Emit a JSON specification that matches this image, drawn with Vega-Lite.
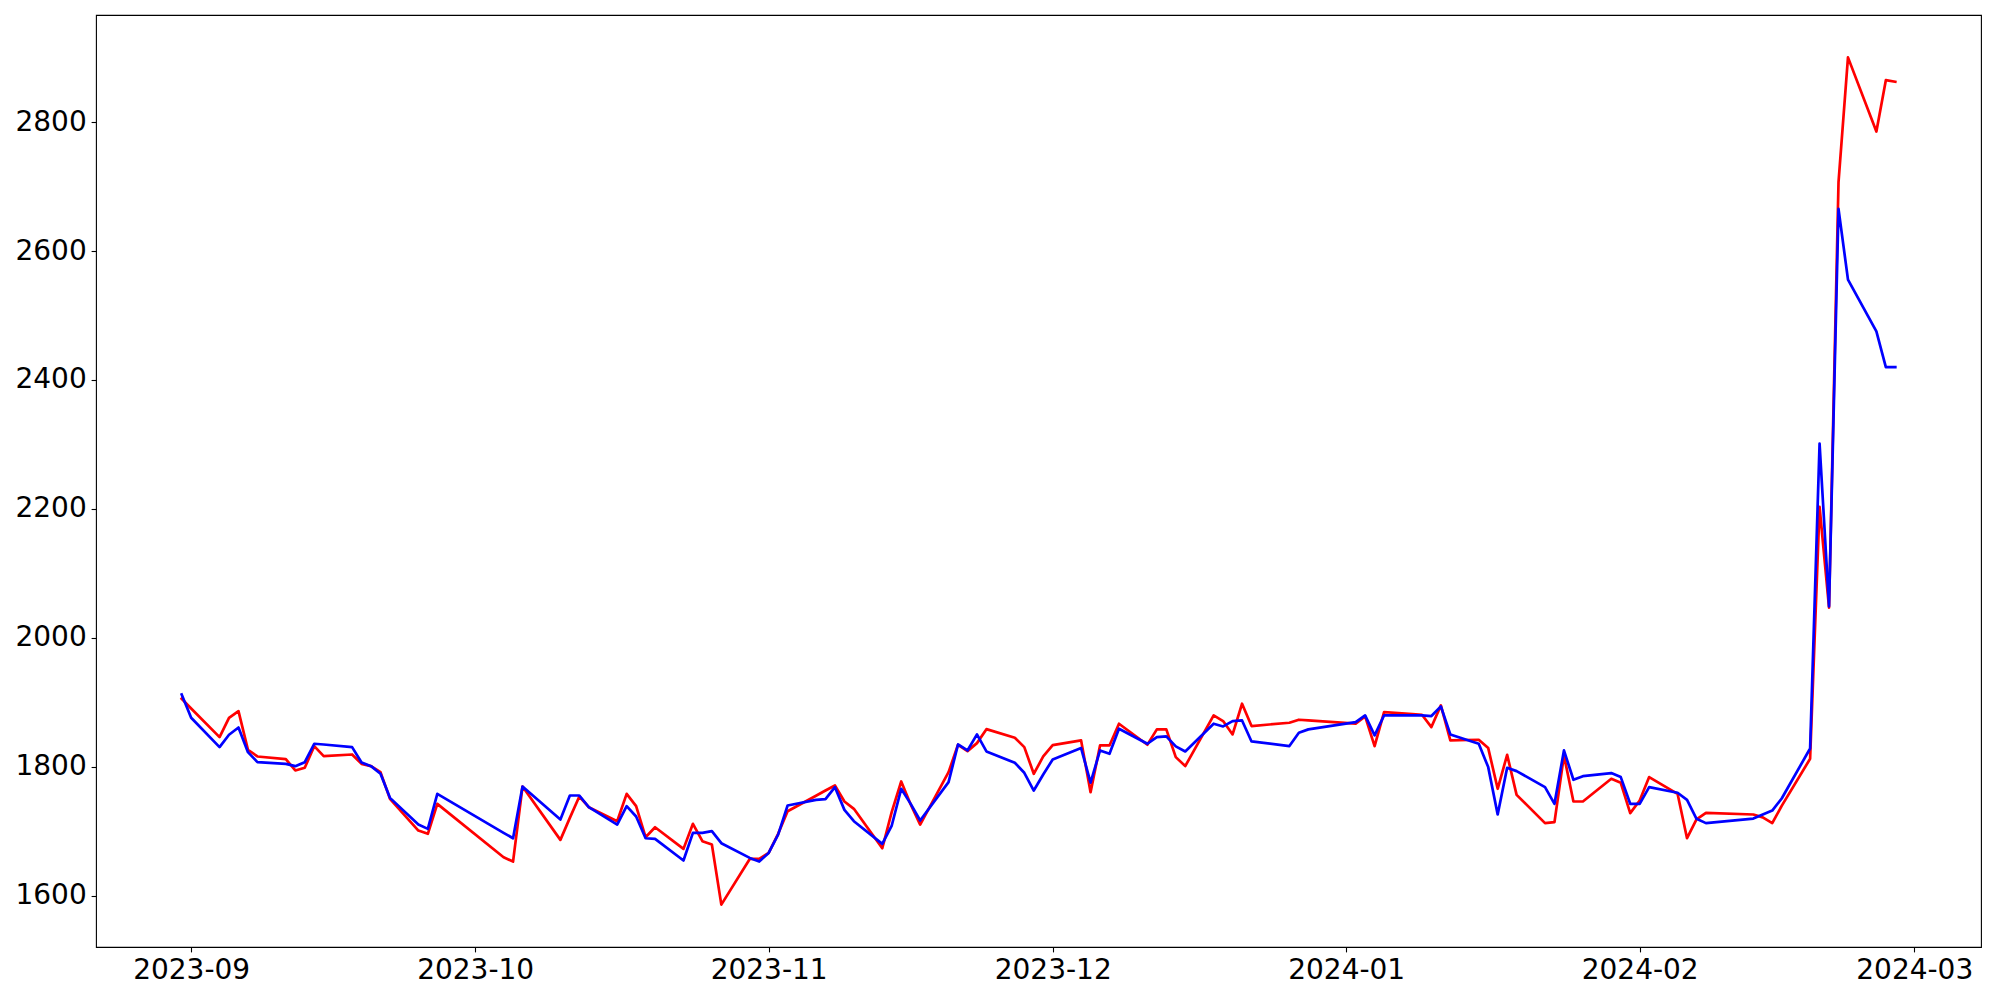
{
  "$schema": "https://vega.github.io/schema/vega-lite/v6.json",
  "width": 1885,
  "height": 932,
  "autosize": {"type": "none"},
  "padding": {"left": 96, "top": 15, "right": 19, "bottom": 53},
  "background": "white",
  "config": {
    "font": "DejaVu Sans",
    "view": {"stroke": "black", "strokeWidth": 1.1},
    "axis": {
      "labelFontSize": 28,
      "labelFont": "DejaVu Sans",
      "labelColor": "black",
      "tickColor": "black",
      "tickSize": 4.9,
      "tickWidth": 1.1,
      "labelPadding": 4.9,
      "domain": false,
      "grid": false,
      "title": null,
      "labelFlush": false,
      "labelOverlap": false,
      "labelBound": false
    }
  },
  "data": {
    "values": [
      {"date": "2023-08-31", "red": 1905.6, "blue": 1912.4},
      {"date": "2023-09-01", "red": 1890.6, "blue": 1876.1},
      {"date": "2023-09-04", "red": 1846.1, "blue": 1830.6},
      {"date": "2023-09-05", "red": 1876.1, "blue": 1849.8},
      {"date": "2023-09-06", "red": 1886.5, "blue": 1861.1},
      {"date": "2023-09-07", "red": 1826.5, "blue": 1822.8},
      {"date": "2023-09-08", "red": 1816.1, "blue": 1807.3},
      {"date": "2023-09-11", "red": 1812.0, "blue": 1804.7},
      {"date": "2023-09-12", "red": 1794.4, "blue": 1801.1},
      {"date": "2023-09-13", "red": 1798.5, "blue": 1807.3},
      {"date": "2023-09-14", "red": 1832.2, "blue": 1835.8},
      {"date": "2023-09-15", "red": 1816.6, "blue": 1834.7},
      {"date": "2023-09-18", "red": 1819.2, "blue": 1830.6},
      {"date": "2023-09-19", "red": 1804.7, "blue": 1806.8},
      {"date": "2023-09-20", "red": 1801.1, "blue": 1801.1},
      {"date": "2023-09-21", "red": 1791.8, "blue": 1789.2},
      {"date": "2023-09-22", "red": 1750.4, "blue": 1751.9},
      {"date": "2023-09-25", "red": 1701.2, "blue": 1710.5},
      {"date": "2023-09-26", "red": 1696.1, "blue": 1703.8},
      {"date": "2023-09-27", "red": 1742.6, "blue": 1758.1},
      {"date": "2023-10-04", "red": 1659.8, "blue": 1697.6},
      {"date": "2023-10-05", "red": 1653.1, "blue": 1689.3},
      {"date": "2023-10-06", "red": 1769.5, "blue": 1769.5},
      {"date": "2023-10-10", "red": 1686.7, "blue": 1718.3},
      {"date": "2023-10-11", "red": 1720.9, "blue": 1755.6},
      {"date": "2023-10-12", "red": 1754.0, "blue": 1755.6},
      {"date": "2023-10-13", "red": 1737.4, "blue": 1737.4},
      {"date": "2023-10-16", "red": 1715.7, "blue": 1710.5},
      {"date": "2023-10-17", "red": 1758.1, "blue": 1739.0},
      {"date": "2023-10-18", "red": 1739.0, "blue": 1723.0},
      {"date": "2023-10-19", "red": 1690.9, "blue": 1689.3},
      {"date": "2023-10-20", "red": 1706.4, "blue": 1688.3},
      {"date": "2023-10-23", "red": 1672.8, "blue": 1654.7},
      {"date": "2023-10-24", "red": 1711.6, "blue": 1697.6},
      {"date": "2023-10-25", "red": 1684.7, "blue": 1697.6},
      {"date": "2023-10-26", "red": 1679.5, "blue": 1700.2},
      {"date": "2023-10-27", "red": 1586.3, "blue": 1681.6},
      {"date": "2023-10-30", "red": 1657.2, "blue": 1658.8},
      {"date": "2023-10-31", "red": 1657.2, "blue": 1653.1},
      {"date": "2023-11-01", "red": 1666.5, "blue": 1666.5},
      {"date": "2023-11-02", "red": 1696.1, "blue": 1695.0},
      {"date": "2023-11-03", "red": 1731.2, "blue": 1740.0},
      {"date": "2023-11-06", "red": 1755.2, "blue": 1748.8},
      {"date": "2023-11-07", "red": 1763.3, "blue": 1749.9},
      {"date": "2023-11-08", "red": 1771.1, "blue": 1768.5},
      {"date": "2023-11-09", "red": 1746.3, "blue": 1733.3},
      {"date": "2023-11-10", "red": 1734.9, "blue": 1715.7},
      {"date": "2023-11-13", "red": 1673.8, "blue": 1680.5},
      {"date": "2023-11-14", "red": 1730.2, "blue": 1709.0},
      {"date": "2023-11-15", "red": 1777.3, "blue": 1765.9},
      {"date": "2023-11-16", "red": 1741.6, "blue": 1742.6},
      {"date": "2023-11-17", "red": 1710.5, "blue": 1716.8},
      {"date": "2023-11-20", "red": 1791.8, "blue": 1776.3},
      {"date": "2023-11-21", "red": 1834.2, "blue": 1834.7},
      {"date": "2023-11-22", "red": 1824.4, "blue": 1825.4},
      {"date": "2023-11-23", "red": 1836.8, "blue": 1850.3},
      {"date": "2023-11-24", "red": 1858.5, "blue": 1823.9},
      {"date": "2023-11-27", "red": 1845.1, "blue": 1806.3},
      {"date": "2023-11-28", "red": 1830.6, "blue": 1790.8},
      {"date": "2023-11-29", "red": 1789.2, "blue": 1763.3},
      {"date": "2023-11-30", "red": 1816.1, "blue": 1788.2},
      {"date": "2023-12-01", "red": 1833.7, "blue": 1811.5},
      {"date": "2023-12-04", "red": 1841.0, "blue": 1829.1},
      {"date": "2023-12-05", "red": 1760.7, "blue": 1775.5},
      {"date": "2023-12-06", "red": 1833.2, "blue": 1825.5},
      {"date": "2023-12-07", "red": 1833.2, "blue": 1820.3},
      {"date": "2023-12-08", "red": 1866.9, "blue": 1859.1},
      {"date": "2023-12-11", "red": 1834.3, "blue": 1835.8},
      {"date": "2023-12-12", "red": 1858.1, "blue": 1846.2},
      {"date": "2023-12-13", "red": 1858.1, "blue": 1847.2},
      {"date": "2023-12-14", "red": 1815.1, "blue": 1831.7},
      {"date": "2023-12-15", "red": 1801.2, "blue": 1823.9},
      {"date": "2023-12-18", "red": 1879.8, "blue": 1866.9},
      {"date": "2023-12-19", "red": 1871.0, "blue": 1862.7},
      {"date": "2023-12-20", "red": 1850.3, "blue": 1871.0},
      {"date": "2023-12-21", "red": 1897.9, "blue": 1872.0},
      {"date": "2023-12-22", "red": 1863.3, "blue": 1839.4},
      {"date": "2023-12-26", "red": 1868.4, "blue": 1832.2},
      {"date": "2023-12-27", "red": 1873.1, "blue": 1852.9},
      {"date": "2023-12-28", "red": 1872.1, "blue": 1858.1},
      {"date": "2024-01-02", "red": 1866.9, "blue": 1869.5},
      {"date": "2024-01-03", "red": 1878.3, "blue": 1879.8},
      {"date": "2024-01-04", "red": 1832.2, "blue": 1848.8},
      {"date": "2024-01-05", "red": 1885.0, "blue": 1879.8},
      {"date": "2024-01-08", "red": 1882.0, "blue": 1879.8},
      {"date": "2024-01-09", "red": 1880.8, "blue": 1879.8},
      {"date": "2024-01-10", "red": 1861.7, "blue": 1878.8},
      {"date": "2024-01-11", "red": 1895.3, "blue": 1893.8},
      {"date": "2024-01-12", "red": 1841.0, "blue": 1850.3},
      {"date": "2024-01-15", "red": 1842.0, "blue": 1835.8},
      {"date": "2024-01-16", "red": 1829.1, "blue": 1799.6},
      {"date": "2024-01-17", "red": 1766.0, "blue": 1726.1},
      {"date": "2024-01-18", "red": 1818.7, "blue": 1798.6},
      {"date": "2024-01-19", "red": 1756.6, "blue": 1793.4},
      {"date": "2024-01-22", "red": 1712.7, "blue": 1768.5},
      {"date": "2024-01-23", "red": 1714.2, "blue": 1742.7},
      {"date": "2024-01-24", "red": 1817.7, "blue": 1825.5},
      {"date": "2024-01-25", "red": 1746.3, "blue": 1780.0},
      {"date": "2024-01-26", "red": 1746.3, "blue": 1785.6},
      {"date": "2024-01-29", "red": 1781.5, "blue": 1790.3},
      {"date": "2024-01-30", "red": 1775.3, "blue": 1784.1},
      {"date": "2024-01-31", "red": 1728.2, "blue": 1742.7},
      {"date": "2024-02-01", "red": 1747.9, "blue": 1742.7},
      {"date": "2024-02-02", "red": 1784.1, "blue": 1768.5},
      {"date": "2024-02-05", "red": 1758.2, "blue": 1759.8},
      {"date": "2024-02-06", "red": 1689.4, "blue": 1748.9},
      {"date": "2024-02-07", "red": 1718.4, "blue": 1719.4},
      {"date": "2024-02-08", "red": 1728.7, "blue": 1712.7},
      {"date": "2024-02-13", "red": 1726.1, "blue": 1719.8},
      {"date": "2024-02-14", "red": 1721.6, "blue": 1726.1},
      {"date": "2024-02-15", "red": 1712.7, "blue": 1732.2},
      {"date": "2024-02-16", "red": 1739.4, "blue": 1750.9},
      {"date": "2024-02-19", "red": 1812.5, "blue": 1828.5},
      {"date": "2024-02-20", "red": 2203.3, "blue": 2301.4},
      {"date": "2024-02-21", "red": 2047.1, "blue": 2049.0},
      {"date": "2024-02-22", "red": 2706.8, "blue": 2665.3},
      {"date": "2024-02-23", "red": 2900.4, "blue": 2555.7},
      {"date": "2024-02-26", "red": 2785.4, "blue": 2475.3},
      {"date": "2024-02-27", "red": 2865.0, "blue": 2420.0},
      {"date": "2024-02-28", "red": 2862.5, "blue": 2420.0}
    ]
  },
  "encoding": {
    "x": {
      "field": "date",
      "type": "temporal",
      "scale": {
        "type": "utc",
        "domain": [
          {"year": 2023, "month": 8, "date": 21, "hours": 22, "minutes": 48, "utc": true},
          {"year": 2024, "month": 3, "date": 8, "hours": 1, "minutes": 12, "utc": true}
        ]
      },
      "axis": {
        "format": "%Y-%m",
        "values": [
          {"year": 2023, "month": 9, "date": 1, "utc": true},
          {"year": 2023, "month": 10, "date": 1, "utc": true},
          {"year": 2023, "month": 11, "date": 1, "utc": true},
          {"year": 2023, "month": 12, "date": 1, "utc": true},
          {"year": 2024, "month": 1, "date": 1, "utc": true},
          {"year": 2024, "month": 2, "date": 1, "utc": true},
          {"year": 2024, "month": 3, "date": 1, "utc": true}
        ]
      }
    }
  },
  "layer": [
    {
      "mark": {"type": "line", "color": "#ff0000", "strokeWidth": 2.7, "strokeJoin": "round", "strokeCap": "square"},
      "encoding": {
        "y": {
          "field": "red",
          "type": "quantitative",
          "scale": {"domain": [1520.6, 2966.1], "zero": false, "nice": false},
          "axis": {"values": [1600, 1800, 2000, 2200, 2400, 2600, 2800], "format": "d"}
        }
      }
    },
    {
      "mark": {"type": "line", "color": "#0000ff", "strokeWidth": 2.7, "strokeJoin": "round", "strokeCap": "square"},
      "encoding": {
        "y": {
          "field": "blue",
          "type": "quantitative",
          "scale": {"domain": [1520.6, 2966.1], "zero": false, "nice": false},
          "axis": {"values": [1600, 1800, 2000, 2200, 2400, 2600, 2800], "format": "d"}
        }
      }
    }
  ]
}
